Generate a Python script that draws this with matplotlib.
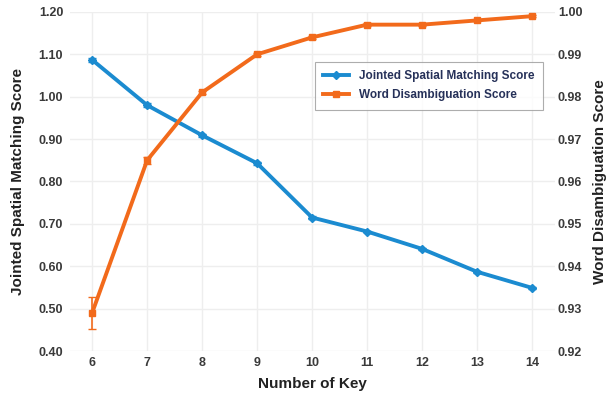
import numpy as np
import matplotlib
matplotlib.use('Agg')
import matplotlib.pyplot as plt

plt.rcParams['font.family'] = ['Liberation Sans', 'DejaVu Sans']
plt.rcParams['font.weight'] = 'bold'

keys = [6, 7, 8, 9, 10, 11, 12, 13, 14]
jsm_score = [1.087, 0.980, 0.909, 0.843, 0.715, 0.682, 0.641, 0.587, 0.549]
jsm_err = [0.004, 0.004, 0.003, 0.004, 0.003, 0.002, 0.002, 0.002, 0.002]
wd_score = [0.929, 0.965, 0.981, 0.990, 0.994, 0.997, 0.997, 0.998, 0.999]
wd_err = [0.0037, 0.0008, 0.0004, 0.0003, 0.0003, 0.0003, 0.0002, 0.0002, 0.0002]

blue = '#1b8bd0'
orange = '#f26a1b'
tick_color = '#3a3a3a'
grid_color = '#eeeeee'

fig = plt.figure(figsize=(6.10, 3.98), dpi=100)
ax = fig.add_axes([0.115, 0.118, 0.795, 0.852])
ax2 = ax.twinx()

l1 = ax.errorbar(keys, jsm_score, yerr=jsm_err, color=blue, lw=2.8, marker='D',
                 ms=4, capsize=3, elinewidth=1.2, zorder=3)
l2 = ax2.errorbar(keys, wd_score, yerr=wd_err, color=orange, lw=2.8, marker='s',
                  ms=4, capsize=3, elinewidth=1.2, zorder=3)

ax.set_xlim(5.6, 14.42)
ax.set_ylim(0.40, 1.20)
ax2.set_ylim(0.92, 1.00)
ax.set_xticks(keys)
left_ticks = np.arange(0.40, 1.21, 0.10)
right_ticks = np.arange(0.92, 1.001, 0.01)
ax.set_yticks(left_ticks)
ax2.set_yticks(right_ticks)
ax.set_yticklabels(['%.2f' % v for v in left_ticks])
ax2.set_yticklabels(['%.2f' % v for v in right_ticks])

ax.grid(True, color=grid_color, lw=1)
for a in (ax, ax2):
    for s in a.spines.values():
        s.set_visible(False)
    a.tick_params(length=0, labelsize=9, labelcolor=tick_color)
ax.tick_params(axis='y', pad=5)
ax.tick_params(axis='x', pad=4)
ax2.tick_params(axis='y', pad=2)

ax.set_xlabel('Number of Key', fontsize=11, fontweight='bold', color='#222222', labelpad=6)
ax.set_ylabel('Jointed Spatial Matching Score', fontsize=11, fontweight='bold', color='#222222', labelpad=10)
ax2.set_ylabel('Word Disambiguation Score', fontsize=11, fontweight='bold', color='#222222', labelpad=8)

leg = ax2.legend([l1.lines[0], l2.lines[0]],
                 ['Jointed Spatial Matching Score', 'Word Disambiguation Score'],
                 loc='upper left', bbox_to_anchor=(0.493, 0.87), fontsize=8.5,
                 frameon=True, fancybox=False, handlelength=2.2, borderpad=0.7,
                 labelspacing=0.6)
leg.get_frame().set_edgecolor('#999999')
leg.get_frame().set_linewidth(0.8)
for t in leg.get_texts():
    t.set_color('#263159')
    t.set_fontweight('bold')

fig.savefig('out.png', dpi=100)
